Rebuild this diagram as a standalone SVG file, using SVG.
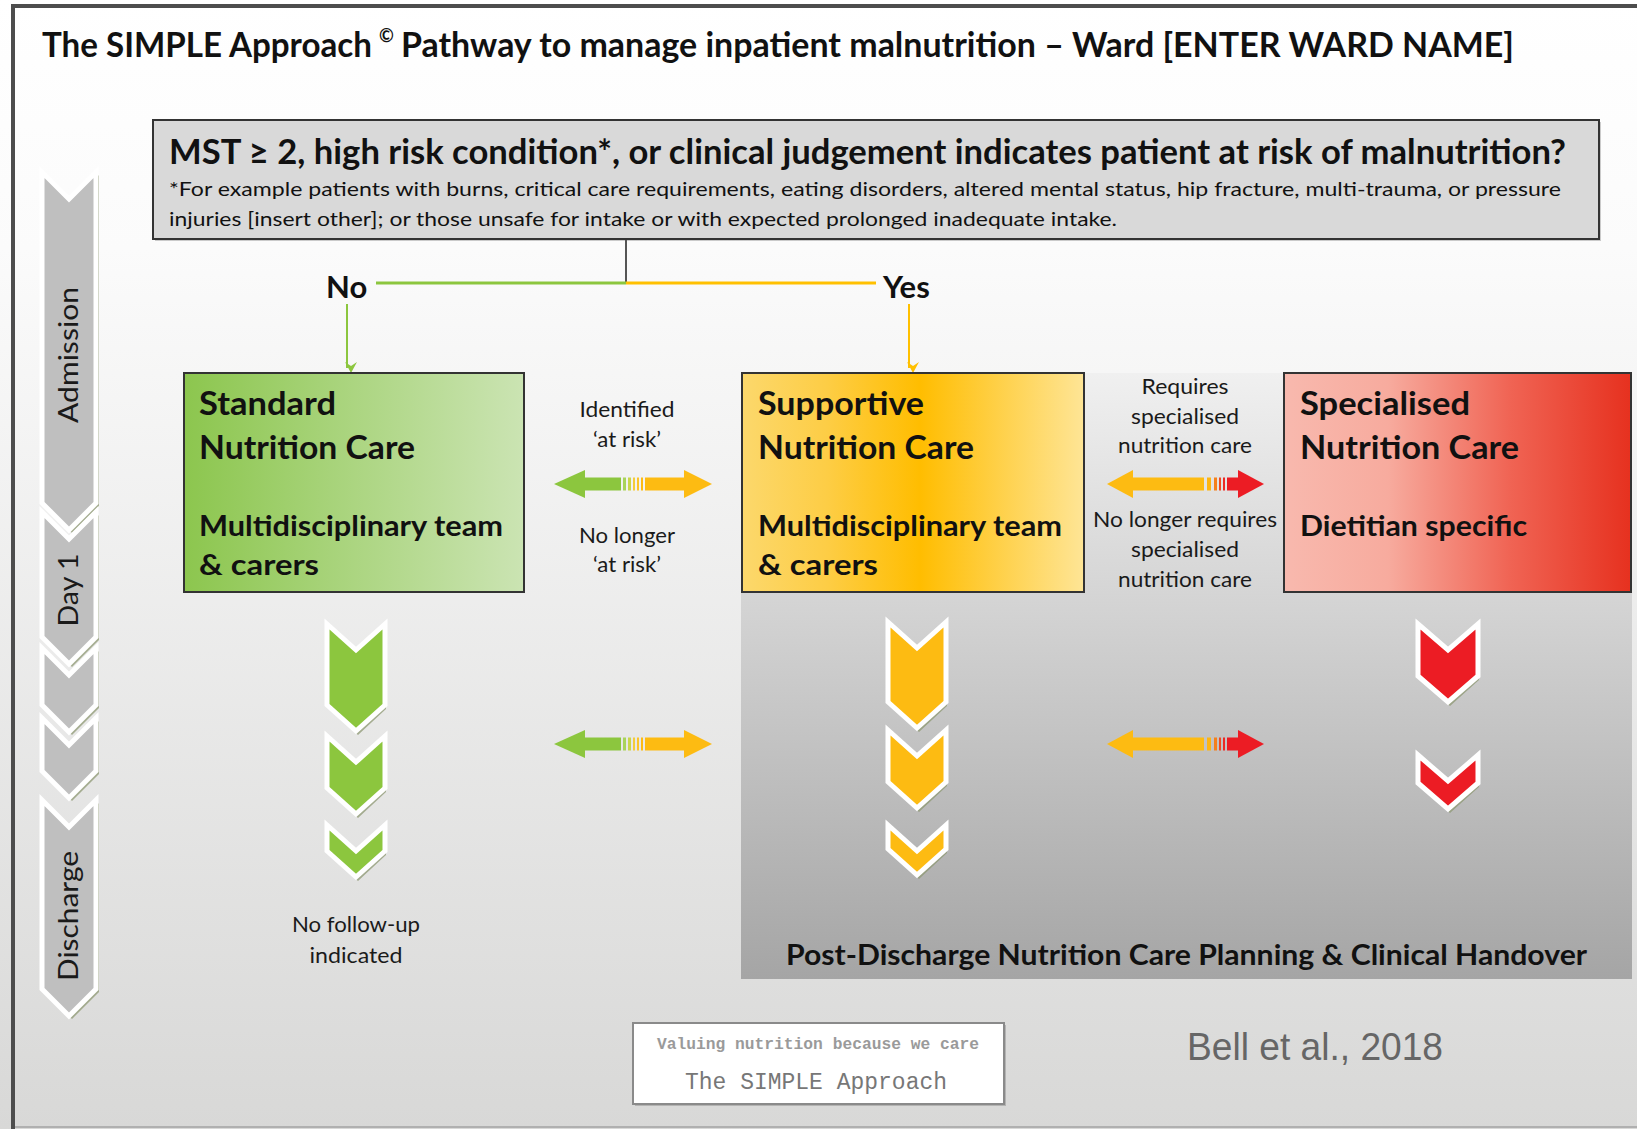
<svg xmlns="http://www.w3.org/2000/svg" width="1637" height="1129" viewBox="0 0 1637 1129">
<defs>
<linearGradient id="bg" x1="0" y1="0" x2="0" y2="1">
<stop offset="0" stop-color="#ffffff"/>
<stop offset="0.22" stop-color="#fbfbfb"/>
<stop offset="1" stop-color="#d8d8d7"/>
</linearGradient>
<linearGradient id="panel" x1="0" y1="0" x2="0" y2="1">
<stop offset="0" stop-color="#f0f0f0"/>
<stop offset="0.35" stop-color="#d6d6d6"/>
<stop offset="1" stop-color="#a5a5a5"/>
</linearGradient>
<linearGradient id="gStd" x1="0" y1="0" x2="1" y2="0">
<stop offset="0" stop-color="#8cc64e"/>
<stop offset="1" stop-color="#cbe4b3"/>
</linearGradient>
<linearGradient id="gSup" x1="0" y1="0" x2="1" y2="0">
<stop offset="0" stop-color="#fcd86c"/>
<stop offset="0.25" stop-color="#fdcd45"/>
<stop offset="0.52" stop-color="#ffbd00"/>
<stop offset="1" stop-color="#fee596"/>
</linearGradient>
<linearGradient id="gSpe" x1="0" y1="0" x2="1" y2="0">
<stop offset="0" stop-color="#f8b9ae"/>
<stop offset="0.3" stop-color="#f7ab9e"/>
<stop offset="0.65" stop-color="#f06454"/>
<stop offset="1" stop-color="#e6311f"/>
</linearGradient>
<marker id="mG" markerWidth="12" markerHeight="12" refX="6" refY="10" orient="auto" markerUnits="userSpaceOnUse" viewBox="0 0 12 12">
<path d="M0,0 L6,11 L12,0 L6,4 Z" fill="#8cc63e" transform="rotate(-90 6 6)"/>
</marker>
<marker id="mO" markerWidth="12" markerHeight="12" refX="6" refY="10" orient="auto" markerUnits="userSpaceOnUse" viewBox="0 0 12 12">
<path d="M0,0 L6,11 L12,0 L6,4 Z" fill="#ffc000" transform="rotate(-90 6 6)"/>
</marker>
</defs>
<style>
.t{font-family:Lato,"Open Sans","Noto Sans",sans-serif;fill:#111}
.b{font-weight:700}
.lbl{font-family:Lato,"Open Sans","Noto Sans",sans-serif;font-size:22px;fill:#1a1a1a;text-anchor:middle}
.box{stroke:#333;stroke-width:2}
.chev{stroke:#ffffff;stroke-width:5;stroke-linejoin:miter}
.sh{fill:#8d9873;opacity:0.75}
.tl{fill:#bfbfbf}
.green{fill:#8cc63e}
.orange{fill:#fdbb12}
.red{fill:#ec1c24}
.rot{font-family:Lato,"Open Sans","Noto Sans",sans-serif;font-size:26px;fill:#1a1a1a;text-anchor:middle;dominant-baseline:central}
</style>

<rect x="0" y="0" width="1637" height="1129" fill="url(#bg)"/>
<!-- frame -->
<line x1="13" y1="6" x2="1637" y2="6" stroke="#4d4d4d" stroke-width="4"/>
<line x1="13" y1="4" x2="13" y2="1129" stroke="#4d4d4d" stroke-width="4"/>
<line x1="15" y1="1127" x2="1637" y2="1127" stroke="#b0b0b0" stroke-width="2"/>

<g id="title">
<text class="t b" x="42" y="57" font-size="34" textLength="330" lengthAdjust="spacingAndGlyphs">The SIMPLE Approach</text>
<text class="t b" x="379" y="42" font-size="18">©</text>
<text class="t b" x="401" y="57" font-size="34" textLength="1113" lengthAdjust="spacingAndGlyphs">Pathway to manage inpatient malnutrition – Ward [ENTER WARD NAME]</text>
</g>

<!-- post discharge panel -->
<g id="post-discharge-panel">
<rect x="741" y="373" width="891" height="606" fill="url(#panel)"/>
<text class="t b" x="786" y="965" font-size="29" textLength="801" lengthAdjust="spacingAndGlyphs">Post-Discharge Nutrition Care Planning &amp; Clinical Handover</text>
</g>

<g id="question">
<rect x="155" y="122" width="1446" height="119" fill="#9a9a9a" opacity="0.5"/>
<rect class="box" x="153" y="120" width="1446" height="119" fill="#d9d9d9"/>
<text class="t b" x="169" y="164" font-size="34" textLength="1397" lengthAdjust="spacingAndGlyphs">MST ≥ 2, high risk condition*, or clinical judgement indicates patient at risk of malnutrition?</text>
<text class="t" x="169" y="196" font-size="20" fill="#222" textLength="1392" lengthAdjust="spacingAndGlyphs">*For example patients with burns, critical care requirements, eating disorders, altered mental status, hip fracture, multi-trauma, or pressure</text>
<text class="t" x="169" y="226" font-size="20" fill="#222" textLength="948" lengthAdjust="spacingAndGlyphs">injuries [insert other]; or those unsafe for intake or with expected prolonged inadequate intake.</text>
</g>

<g id="connectors">
<line x1="626" y1="240" x2="626" y2="283" stroke="#555" stroke-width="2"/>
<line x1="376" y1="283" x2="626" y2="283" stroke="#8cc63e" stroke-width="3"/>
<line x1="626" y1="283" x2="876" y2="283" stroke="#ffc000" stroke-width="3"/>
<line x1="347" y1="304" x2="347" y2="368" stroke="#8cc63e" stroke-width="2" marker-end="url(#mG)"/>
<line x1="909" y1="304" x2="909" y2="368" stroke="#ffc000" stroke-width="2" marker-end="url(#mO)"/>

<g id="arrow-std-sup-1">
<polygon class="green" points="554,484 585,470 585,498"/>
<rect class="green" x="584" y="477.5" width="37" height="13"/>
<rect x="623" y="477.5" width="3" height="13" fill="#a9d35a"/>
<rect x="628" y="477.5" width="3" height="13" fill="#c9d64a"/>
<rect x="633" y="477.5" width="2" height="13" fill="#f3cc3a"/>
<rect x="637" y="477.5" width="2" height="13" fill="#fcc428"/>
<rect x="641" y="477.5" width="2" height="13" fill="#fdbb12"/>
<rect class="orange" x="645" y="477.5" width="40" height="13"/>
<polygon class="orange" points="684,470 712,484 684,498"/>
</g>
<g id="arrow-sup-spe-1">
<polygon class="orange" points="1107,484 1133,470 1133,498"/>
<rect class="orange" x="1132" y="477.5" width="72" height="13"/>
<rect x="1207" y="477.5" width="4" height="13" fill="#fdb513"/>
<rect x="1214" y="477.5" width="3" height="13" fill="#f5801c"/>
<rect x="1219" y="477.5" width="2" height="13" fill="#ef4a22"/>
<rect x="1223" y="477.5" width="2" height="13" fill="#ec2a24"/>
<rect class="red" x="1227" y="477.5" width="12" height="13"/>
<polygon class="red" points="1238,470 1264,484 1238,498"/>
</g>
<g id="arrow-std-sup-2">
<polygon class="green" points="554,744 585,730 585,758"/>
<rect class="green" x="584" y="737.5" width="37" height="13"/>
<rect x="623" y="737.5" width="3" height="13" fill="#a9d35a"/>
<rect x="628" y="737.5" width="3" height="13" fill="#c9d64a"/>
<rect x="633" y="737.5" width="2" height="13" fill="#f3cc3a"/>
<rect x="637" y="737.5" width="2" height="13" fill="#fcc428"/>
<rect x="641" y="737.5" width="2" height="13" fill="#fdbb12"/>
<rect class="orange" x="645" y="737.5" width="40" height="13"/>
<polygon class="orange" points="684,730 712,744 684,758"/>
</g>
<g id="arrow-sup-spe-2">
<polygon class="orange" points="1107,744 1133,730 1133,758"/>
<rect class="orange" x="1132" y="737.5" width="72" height="13"/>
<rect x="1207" y="737.5" width="4" height="13" fill="#fdb513"/>
<rect x="1214" y="737.5" width="3" height="13" fill="#f5801c"/>
<rect x="1219" y="737.5" width="2" height="13" fill="#ef4a22"/>
<rect x="1223" y="737.5" width="2" height="13" fill="#ec2a24"/>
<rect class="red" x="1227" y="737.5" width="12" height="13"/>
<polygon class="red" points="1238,730 1264,744 1238,758"/>
</g>
</g>

<text class="t b" x="326" y="298" font-size="31">No</text>
<text class="t b" x="883" y="298" font-size="31">Yes</text>

<g id="standard">
<rect class="box" x="184" y="373" width="340" height="219" fill="url(#gStd)"/>
<text class="t b" x="199" y="415" font-size="32" textLength="137" lengthAdjust="spacingAndGlyphs">Standard</text>
<text class="t b" x="199" y="459" font-size="32" textLength="216" lengthAdjust="spacingAndGlyphs">Nutrition Care</text>
<text class="t b" x="199" y="536" font-size="29" textLength="304" lengthAdjust="spacingAndGlyphs">Multidisciplinary team</text>
<text class="t b" x="199" y="575" font-size="29" textLength="120" lengthAdjust="spacingAndGlyphs">&amp; carers</text>
</g>

<g id="supportive">
<rect class="box" x="742" y="373" width="342" height="219" fill="url(#gSup)"/>
<text class="t b" x="758" y="415" font-size="32" textLength="166" lengthAdjust="spacingAndGlyphs">Supportive</text>
<text class="t b" x="758" y="459" font-size="32" textLength="216" lengthAdjust="spacingAndGlyphs">Nutrition Care</text>
<text class="t b" x="758" y="536" font-size="29" textLength="304" lengthAdjust="spacingAndGlyphs">Multidisciplinary team</text>
<text class="t b" x="758" y="575" font-size="29" textLength="120" lengthAdjust="spacingAndGlyphs">&amp; carers</text>
</g>

<g id="specialised">
<rect class="box" x="1284" y="373" width="347" height="219" fill="url(#gSpe)"/>
<text class="t b" x="1300" y="415" font-size="32" textLength="170" lengthAdjust="spacingAndGlyphs">Specialised</text>
<text class="t b" x="1300" y="459" font-size="32" textLength="219" lengthAdjust="spacingAndGlyphs">Nutrition Care</text>
<text class="t b" x="1300" y="536" font-size="29" textLength="227" lengthAdjust="spacingAndGlyphs">Dietitian specific</text>
</g>

<g id="labels-std-sup">
<text class="lbl" x="627" y="417" textLength="95" lengthAdjust="spacingAndGlyphs">Identified</text>
<text class="lbl" x="627" y="447" textLength="68" lengthAdjust="spacingAndGlyphs">‘at risk’</text>
<text class="lbl" x="627" y="543" textLength="96" lengthAdjust="spacingAndGlyphs">No longer</text>
<text class="lbl" x="627" y="572" textLength="68" lengthAdjust="spacingAndGlyphs">‘at risk’</text>
</g>
<g id="labels-sup-spe">
<text class="lbl" x="1185" y="394" textLength="87" lengthAdjust="spacingAndGlyphs">Requires</text>
<text class="lbl" x="1185" y="424" textLength="108" lengthAdjust="spacingAndGlyphs">specialised</text>
<text class="lbl" x="1185" y="453" textLength="134" lengthAdjust="spacingAndGlyphs">nutrition care</text>
<text class="lbl" x="1185" y="527" textLength="184" lengthAdjust="spacingAndGlyphs">No longer requires</text>
<text class="lbl" x="1185" y="557" textLength="108" lengthAdjust="spacingAndGlyphs">specialised</text>
<text class="lbl" x="1185" y="587" textLength="134" lengthAdjust="spacingAndGlyphs">nutrition care</text>
</g>

<g id="timeline">
<g id="tl-admission">
<polygon class="sh" points="45,175 72,202 99,175 99,506 72,533 45,506"/>
<polygon class="chev tl" points="42,172 69,199 96,172 96,503 69,530 42,503"/>
<text class="rot" transform="translate(68,355) rotate(-90)" textLength="136" lengthAdjust="spacingAndGlyphs">Admission</text>
</g>
<g id="tl-day1">
<polygon class="sh" points="45,515 72,542 99,515 99,640 72,667 45,640"/>
<polygon class="chev tl" points="42,512 69,539 96,512 96,637 69,664 42,637"/>
<text class="rot" transform="translate(68,590) rotate(-90)" textLength="73" lengthAdjust="spacingAndGlyphs">Day 1</text>
</g>
<g id="tl-step1">
<polygon class="sh" points="45,651 72,678 99,651 99,708 72,735 45,708"/>
<polygon class="chev tl" points="42,648 69,675 96,648 96,705 69,732 42,705"/>
</g>
<g id="tl-step2">
<polygon class="sh" points="45,721 72,748 99,721 99,774 72,801 45,774"/>
<polygon class="chev tl" points="42,718 69,745 96,718 96,771 69,798 42,771"/>
</g>
<g id="tl-discharge">
<polygon class="sh" points="45,803 72,830 99,803 99,992 72,1019 45,992"/>
<polygon class="chev tl" points="42,800 69,827 96,800 96,989 69,1016 42,989"/>
<text class="rot" transform="translate(68,916) rotate(-90)" textLength="130" lengthAdjust="spacingAndGlyphs">Discharge</text>
</g>
</g>

<g id="standard-chevrons">
<polygon class="sh" points="330,628 358,654 386,628 386,709 358,735 330,709"/>
<polygon class="chev green" points="327,624 356,650 385,624 385,705 356,731 327,705"/>
<polygon class="sh" points="330,740 358,766 386,740 386,792 358,818 330,792"/>
<polygon class="chev green" points="327,736 356,762 385,736 385,788 356,814 327,788"/>
<polygon class="sh" points="330,829 358,855 386,829 386,855 358,881 330,855"/>
<polygon class="chev green" points="327,825 356,851 385,825 385,851 356,877 327,851"/>
</g>
<g id="supportive-chevrons">
<polygon class="sh" points="891,626 919,652 947,626 947,706 919,732 891,706"/>
<polygon class="chev orange" points="888,622 917,648 946,622 946,702 917,728 888,702"/>
<polygon class="sh" points="891,734 919,760 947,734 947,786 919,812 891,786"/>
<polygon class="chev orange" points="888,730 917,756 946,730 946,782 917,808 888,782"/>
<polygon class="sh" points="891,829 919,855 947,829 947,853 919,879 891,853"/>
<polygon class="chev orange" points="888,825 917,851 946,825 946,849 917,875 888,849"/>
</g>
<g id="specialised-chevrons">
<polygon class="sh" points="1421,628 1450,654 1479,628 1479,680 1450,706 1421,680"/>
<polygon class="chev red" points="1418,624 1448,650 1478,624 1478,676 1448,702 1418,676"/>
<polygon class="sh" points="1421,759 1450,785 1479,759 1479,787 1450,813 1421,787"/>
<polygon class="chev red" points="1418,755 1448,781 1478,755 1478,783 1448,809 1418,783"/>
</g>

<g id="no-follow-up">
<text class="lbl" x="356" y="932" textLength="128" lengthAdjust="spacingAndGlyphs">No follow-up</text>
<text class="lbl" x="356" y="963" textLength="93" lengthAdjust="spacingAndGlyphs">indicated</text>
</g>

<g id="logo">
<rect x="635" y="1025" width="371" height="81" fill="#9a9a9a" opacity="0.6"/>
<rect x="633" y="1023" width="371" height="81" fill="#ffffff" stroke="#8a8a8a" stroke-width="2"/>
<text x="818" y="1049" font-family="'Liberation Mono',monospace" font-size="16" font-weight="700" fill="#9a9a9a" text-anchor="middle" textLength="322" lengthAdjust="spacingAndGlyphs">Valuing nutrition because we care</text>
<text x="816" y="1089" font-family="'Liberation Mono',monospace" font-size="23" fill="#777777" text-anchor="middle" textLength="262" lengthAdjust="spacingAndGlyphs">The SIMPLE Approach</text>
</g>

<text x="1187" y="1060" font-family="'Liberation Sans',Arial,sans-serif" font-size="39" fill="#666666" textLength="256" lengthAdjust="spacingAndGlyphs">Bell et al., 2018</text>
</svg>
